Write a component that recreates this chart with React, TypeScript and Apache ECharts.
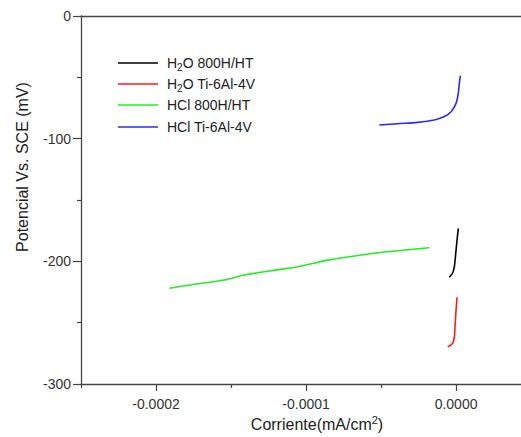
import React, { useEffect, useRef } from "react";
import * as echarts from "echarts";

const seriesNames = ["H2O 800H/HT", "H2O Ti-6Al-4V", "HCl 800H/HT", "HCl Ti-6Al-4V"];
const seriesColors = ["#000000", "#ff1a1a", "#22ee22", "#2a2aff"];

const h2o800X = [-0.00000447, -0.0000022, -0.00000113, -0.0000002, 0.00000067, 0.00000153];
const h2o800Y = [-213.0, -209.3, -204.4, -193.5, -182.6, -173.1];

const h2oTiX = [-0.00000553, -0.0000022, -0.00000113, -0.00000067, 0.0, 0.00000067];
const h2oTiY = [-269.6, -266.8, -261.4, -253.3, -239.7, -229.3];

const hcl800X = [-0.0001911, -0.0001745, -0.0001545, -0.0001411, -0.0001233, -0.0001055, -0.0000855, -0.0000633, -0.0000411, -0.0000178];
const hcl800Y = [-222.0, -218.7, -215.2, -211.2, -207.7, -204.4, -199.0, -194.8, -191.6, -188.9];

const hclTiX = [-0.0000511, -0.0000389, -0.0000255, -0.0000145, -0.0000078, -0.0000033, 0.0, 0.0000015, 0.0000022, 0.0000029];
const hclTiY = [-88.9, -87.8, -86.7, -84.8, -82.0, -78.0, -71.2, -63.0, -54.9, -48.7];

const xLabelValues = [-0.0002, -0.0001, 0];
const xMinorValues = [-0.00025, -0.00015, -0.00005];

const FONT = "'Liberation Sans', Arial, sans-serif";

function zip(xs: number[], ys: number[]) {
  return xs.map((x, i) => [x, ys[i]]);
}

function legendText(name: string) {
  if (name.startsWith("H2O")) return "{a|H}{s|2}{a|O" + name.slice(3) + "}";
  return "{a|" + name + "}";
}

export default function App() {
  const ref = useRef<HTMLDivElement>(null);
  useEffect(() => {
    if (!ref.current) return;
    const chart = echarts.init(ref.current, null, { renderer: "svg" });
    const allData = [zip(h2o800X, h2o800Y), zip(h2oTiX, h2oTiY), zip(hcl800X, hcl800Y), zip(hclTiX, hclTiY)];
    const legendCenters = [60, 81, 102, 124];
    const axisColor = "#444";
    const labelColor = "#333";
    const xMin = -0.00025;
    const xMax = 0.0000433;
    chart.setOption({
      animation: false,
      grid: { left: 81, top: 16, right: 0, bottom: 53, containLabel: false },
      legend: seriesNames.map((n, i) => ({
        data: [{ name: n, icon: "rect", itemStyle: { color: seriesColors[i] } }],
        left: 113,
        top: legendCenters[i] - 9,
        itemWidth: 40,
        itemHeight: 1.6,
        itemGap: 0,
        formatter: (name: string) => legendText(name),
        textStyle: {
          color: "#222",
          padding: [0, 0, 0, 4],
          rich: {
            a: { fontSize: 14, fontFamily: FONT, color: "#222", lineHeight: 18 },
            s: { fontSize: 10, fontFamily: FONT, color: "#222", verticalAlign: "bottom", lineHeight: 14 },
          },
        },
      })),
      xAxis: [
        {
          type: "value",
          position: "bottom",
          min: xMin,
          max: xMax,
          splitLine: { show: false },
          axisLine: { show: true, onZero: false, lineStyle: { color: axisColor, width: 1.3 } },
          axisTick: { show: true, customValues: xLabelValues, length: 7, lineStyle: { color: axisColor, width: 1.2 } },
          axisLabel: {
            customValues: xLabelValues,
            formatter: (v: number) => v.toFixed(4),
            fontSize: 14,
            fontFamily: FONT,
            color: labelColor,
            margin: 13,
          },
        },
        {
          type: "value",
          position: "bottom",
          offset: 0,
          min: xMin,
          max: xMax,
          splitLine: { show: false },
          axisLine: { show: false, onZero: false },
          axisTick: { show: true, customValues: xMinorValues, length: 4, lineStyle: { color: axisColor, width: 1.2 } },
          axisLabel: { show: false },
        },
        {
          type: "value",
          position: "top",
          offset: 0,
          min: xMin,
          max: xMax,
          splitLine: { show: false },
          axisLine: { show: true, onZero: false, lineStyle: { color: axisColor, width: 1.3 } },
          axisTick: { show: false },
          axisLabel: { show: false },
        },
      ],
      yAxis: {
        type: "value",
        position: "left",
        min: -300,
        max: 0,
        interval: 100,
        splitLine: { show: false },
        axisLine: { show: true, onZero: false, lineStyle: { color: axisColor, width: 1.3 } },
        axisTick: { show: true, length: 8, lineStyle: { color: axisColor, width: 1.2 } },
        minorTick: { show: true, splitNumber: 2, length: 4, lineStyle: { color: axisColor, width: 1.2 } },
        axisLabel: { fontSize: 14, fontFamily: FONT, color: labelColor, margin: 10 },
      },
      series: seriesNames.map((n, i) => ({
        name: n,
        type: "line",
        xAxisIndex: 0,
        data: allData[i],
        symbol: "none",
        smooth: 0.3,
        lineStyle: { color: seriesColors[i], width: 1.6 },
        itemStyle: { color: seriesColors[i] },
      })),
      graphic: [
        {
          type: "text",
          x: 317,
          y: 424,
          style: {
            text: "{a|Corriente(mA/cm}{s|2}{a|)}",
            align: "center",
            verticalAlign: "middle",
            rich: {
              a: { fontSize: 16, fontFamily: FONT, fill: "#222", lineHeight: 20 },
              s: { fontSize: 11, fontFamily: FONT, fill: "#222", verticalAlign: "top", lineHeight: 14 },
            },
          },
        },
        {
          type: "text",
          x: 22,
          y: 167,
          rotation: Math.PI / 2,
          style: {
            text: "Potencial Vs. SCE (mV)",
            fontSize: 16,
            fontFamily: FONT,
            fill: "#222",
            align: "center",
            verticalAlign: "middle",
          },
        },
      ],
    });
    return () => chart.dispose();
  }, []);
  return <div ref={ref} style={{ position: "absolute", left: 0, top: 0, width: 521, height: 437 }} />;
}
